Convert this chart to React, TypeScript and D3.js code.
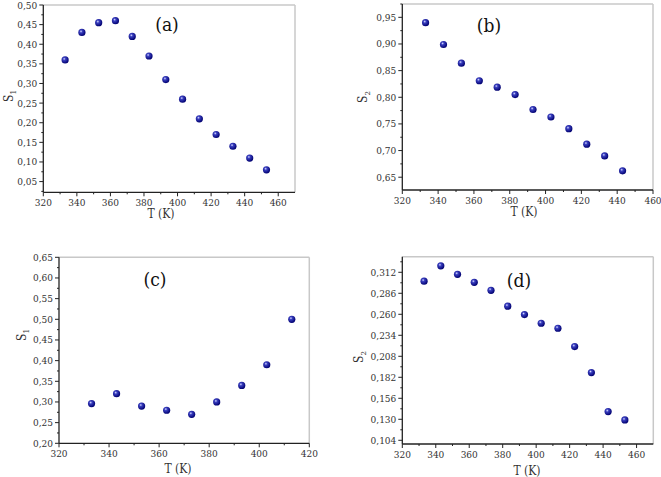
import React from "react";
import * as d3 from "d3";

// temperatures (K)
const tempA = [333, 343, 353, 363, 373, 383, 393, 403, 413, 423, 433, 443, 453];
const tempB = [333, 343, 353, 363, 373, 383, 393, 403, 413, 423, 433, 443];
const tempC = [333, 343, 353, 363, 373, 383, 393, 403, 413];
const tempD = [333, 343, 353, 363, 373, 383, 393, 403, 413, 423, 433, 443, 453];

// order parameters
const s1A = [0.36, 0.43, 0.455, 0.46, 0.42, 0.37, 0.31, 0.26, 0.21, 0.17, 0.14, 0.11, 0.08];
const s2B = [0.94, 0.899, 0.864, 0.831, 0.819, 0.805, 0.777, 0.763, 0.741, 0.712, 0.69, 0.662];
const s1C = [0.296, 0.32, 0.29, 0.28, 0.27, 0.3, 0.34, 0.39, 0.5];
const s2D = [0.301, 0.32, 0.3095, 0.2996, 0.2897, 0.27, 0.2596, 0.2489, 0.2427, 0.22, 0.1878, 0.1395, 0.1292];

// tick labels
const xTicksA = [320, 340, 360, 380, 400, 420, 440, 460];
const xTicksC = [320, 340, 360, 380, 400, 420];
const yTicksA = [0.05, 0.1, 0.15, 0.2, 0.25, 0.3, 0.35, 0.4, 0.45, 0.5];
const yTicksB = [0.65, 0.7, 0.75, 0.8, 0.85, 0.9, 0.95];
const yTicksC = [0.2, 0.25, 0.3, 0.35, 0.4, 0.45, 0.5, 0.55, 0.6, 0.65];
const yTicksD = [0.104, 0.13, 0.156, 0.182, 0.208, 0.234, 0.26, 0.286, 0.312];

const FONT = "'DejaVu Serif Condensed', 'DejaVu Serif', serif";

interface PanelProps {
  xs: number[];
  ys: number[];
  box: [number, number, number, number]; // left, top, right, bottom
  xDomain: [number, number];
  yDomain: [number, number];
  xTicks: number[];
  yTicks: number[];
  yDec: number;
  tag: string;
  tagPos: [number, number];
  yLabelSub: string;
  yLabelPos: [number, number];
  xLabelPos: [number, number];
}

function Panel(p: PanelProps) {
  const [l, t, r, b] = p.box;
  const x = d3.scaleLinear().domain(p.xDomain).range([l, r]);
  const y = d3.scaleLinear().domain(p.yDomain).range([b, t]);
  const xStep = p.xTicks[1] - p.xTicks[0];
  const yStep = p.yTicks[1] - p.yTicks[0];
  const xMinor = p.xTicks.map((v) => v + xStep / 2).filter((v) => v < p.xDomain[1]);
  const yMinor = [p.yTicks[0] - yStep / 2, ...p.yTicks.map((v) => v + yStep / 2)].filter(
    (v) => v > p.yDomain[0] && v < p.yDomain[1]
  );
  const fmt = (v: number) => v.toFixed(p.yDec).replace(".", ",");
  return (
    <g fontFamily={FONT}>
      <line x1={l} y1={t} x2={r} y2={t} stroke="#c8c8c8" strokeWidth={1.5} />
      <line x1={r} y1={t} x2={r} y2={b} stroke="#c8c8c8" strokeWidth={1.5} />
      <line x1={l} y1={b} x2={r} y2={b} stroke="#222" strokeWidth={1.3} />
      <line x1={l} y1={t} x2={l} y2={b} stroke="#222" strokeWidth={1.3} />
      {p.xTicks.map((v) => (
        <g key={"x" + v}>
          <line x1={x(v)} x2={x(v)} y1={b} y2={b + 4} stroke="#222" />
          <text x={x(v)} y={b + 14} textAnchor="middle" fontSize={10} fill="#333">
            {v}
          </text>
        </g>
      ))}
      {xMinor.map((v) => (
        <line key={"xm" + v} x1={x(v)} x2={x(v)} y1={b} y2={b + 2} stroke="#222" />
      ))}
      {p.yTicks.map((v) => (
        <g key={"y" + v}>
          <line x1={l - 4} x2={l} y1={y(v)} y2={y(v)} stroke="#222" />
          <text x={l - 6} y={y(v) + 3.5} textAnchor="end" fontSize={10} fill="#333">
            {fmt(v)}
          </text>
        </g>
      ))}
      {yMinor.map((v) => (
        <line key={"ym" + v} x1={l - 2} x2={l} y1={y(v)} y2={y(v)} stroke="#222" />
      ))}
      {p.xs.map((v, i) => (
        <circle key={"p" + i} cx={x(v)} cy={y(p.ys[i])} r={3.6} fill="url(#ball)" />
      ))}
      <text x={p.tagPos[0]} y={p.tagPos[1]} textAnchor="middle" fontSize={19} fill="#111">
        {p.tag}
      </text>
      <text x={p.xLabelPos[0]} y={p.xLabelPos[1]} textAnchor="middle" fontSize={12} fill="#333">
        T (K)
      </text>
      <text
        transform={`translate(${p.yLabelPos[0]},${p.yLabelPos[1]}) rotate(-90)`}
        textAnchor="middle"
        fontSize={12}
        fill="#333"
      >
        S
        <tspan fontSize={8} dy={3}>
          {p.yLabelSub}
        </tspan>
      </text>
    </g>
  );
}

export default function App() {
  return (
    <svg width={661} height={477} style={{ position: "absolute", left: 0, top: 0, background: "#fff" }}>
      <defs>
        <radialGradient id="ball" cx="0.38" cy="0.35" r="0.65">
          <stop offset="0" stopColor="#d8dcff" />
          <stop offset="0.3" stopColor="#3a3fc0" />
          <stop offset="1" stopColor="#000070" />
        </radialGradient>
      </defs>
      <Panel
        xs={tempA}
        ys={s1A}
        box={[43.3, 5, 295, 192.3]}
        xDomain={[320, 470]}
        yDomain={[0.0227, 0.5]}
        xTicks={xTicksA}
        yTicks={yTicksA}
        yDec={2}
        tag="(a)"
        tagPos={[167, 31]}
        yLabelSub="1"
        yLabelPos={[13, 96]}
        xLabelPos={[161, 218]}
      />
      <Panel
        xs={tempB}
        ys={s2B}
        box={[402.3, 4, 653, 190]}
        xDomain={[320, 460]}
        yDomain={[0.626, 0.975]}
        xTicks={xTicksA}
        yTicks={yTicksB}
        yDec={2}
        tag="(b)"
        tagPos={[489, 32]}
        yLabelSub="2"
        yLabelPos={[367, 97]}
        xLabelPos={[524, 216]}
      />
      <Panel
        xs={tempC}
        ys={s1C}
        box={[59, 257.3, 309.3, 443.3]}
        xDomain={[320, 420]}
        yDomain={[0.2, 0.65]}
        xTicks={xTicksC}
        yTicks={yTicksC}
        yDec={2}
        tag="(c)"
        tagPos={[155, 286]}
        yLabelSub="1"
        yLabelPos={[26, 335]}
        xLabelPos={[178, 473]}
      />
      <Panel
        xs={tempD}
        ys={s2D}
        box={[402.3, 256.7, 653.3, 444]}
        xDomain={[320, 470]}
        yDomain={[0.0994, 0.3313]}
        xTicks={xTicksA}
        yTicks={yTicksD}
        yDec={3}
        tag="(d)"
        tagPos={[519, 287]}
        yLabelSub="2"
        yLabelPos={[363, 357]}
        xLabelPos={[527, 475]}
      />
    </svg>
  );
}
